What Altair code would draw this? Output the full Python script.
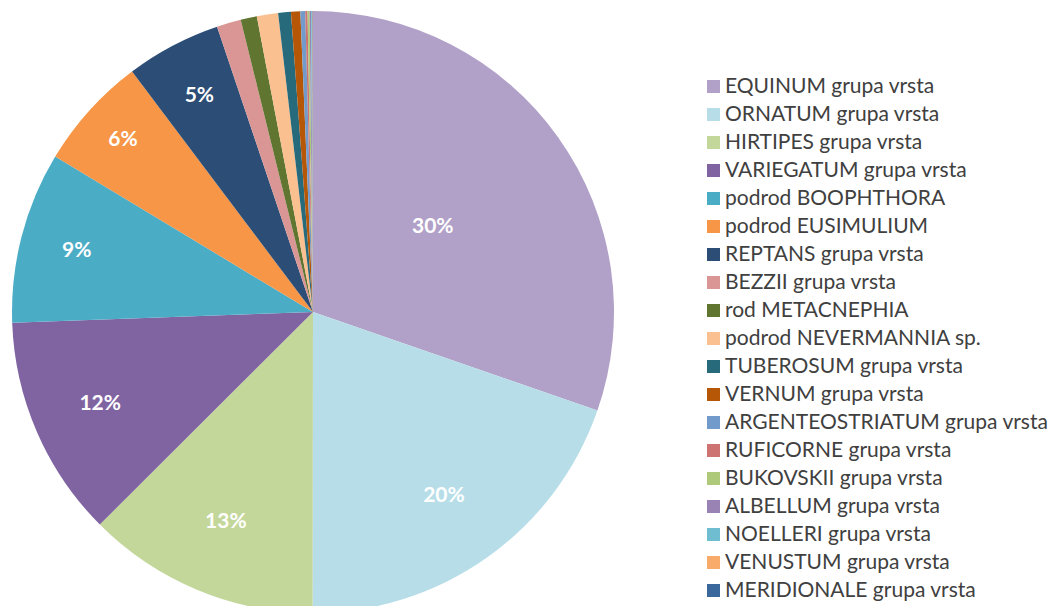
import altair as alt
import pandas as pd

categories = [
    "EQUINUM grupa vrsta", "ORNATUM grupa vrsta", "HIRTIPES grupa vrsta",
    "VARIEGATUM grupa vrsta", "podrod BOOPHTHORA", "podrod EUSIMULIUM",
    "REPTANS grupa vrsta", "BEZZII grupa vrsta", "rod METACNEPHIA",
    "podrod NEVERMANNIA sp.", "TUBEROSUM grupa vrsta", "VERNUM grupa vrsta",
    "ARGENTEOSTRIATUM grupa vrsta", "RUFICORNE grupa vrsta", "BUKOVSKII grupa vrsta",
    "ALBELLUM grupa vrsta", "NOELLERI grupa vrsta", "VENUSTUM grupa vrsta",
    "MERIDIONALE grupa vrsta",
]
values = [30.3, 19.7, 12.5, 11.9, 9.2, 6.1, 5.1, 1.3, 0.87, 1.14, 0.68, 0.5,
          0.26, 0.12, 0.11, 0.08, 0.05, 0.03, 0.02]
colors = ["#B1A0C7", "#B7DEE8", "#C4D79B", "#8064A2", "#4BACC6", "#F79646",
          "#2C4D75", "#D99694", "#5F7530", "#FAC090", "#276A7C", "#B65708",
          "#729ACA", "#CD7371", "#AFC97A", "#9983B5", "#6FBDD1", "#F9AB6B",
          "#3A679C"]

df = pd.DataFrame({"cat": categories, "value": values, "idx": list(range(len(categories)))})

CX, CY, R = 305, 304, 301

color = alt.Color(
    "cat:N",
    scale=alt.Scale(domain=categories, range=colors),
    sort=categories,
    legend=alt.Legend(
        title=None, orient="none", legendX=695, legendY=68,
        symbolType="square", symbolSize=169, symbolStrokeWidth=0,
        labelFontSize=21, labelFont="Lato", labelColor="#404040",
        rowPadding=6, labelOffset=1, labelLimit=400,
    ),
)

pie = alt.Chart(df).mark_arc(outerRadius=R, x=CX, y=CY).encode(
    theta=alt.Theta("value:Q", stack=True),
    order=alt.Order("idx:Q"),
    color=color,
)

labels = alt.Chart(df).transform_joinaggregate(
    total="sum(value)"
).transform_window(
    cum="sum(value)", sort=[alt.SortField("idx")], frame=[None, 0]
).transform_calculate(
    ang="(datum.cum - datum.value / 2) / datum.total * 2 * PI",
    lab="datum.value >= 5 ? round(datum.value) + '%' : ''",
    rad="[147, 226, 227, 232, 244, 256, 244][datum.idx] || 230",
).mark_text(
    x=CX, y=CY, font="Lato", fontSize=21, fontWeight="bold", color="white",
).encode(
    text="lab:N",
    theta=alt.Theta("ang:Q", scale=None, stack=None),
    radius=alt.Radius("rad:Q", scale=None),
)

chart = alt.layer(pie, labels).properties(
    width=1046, height=598,
    autosize=alt.AutoSizeParams(type="none"),
    padding=0,
).configure_view(stroke=None)

chart.save("out.html", embed_options={"renderer": "svg", "actions": False})
